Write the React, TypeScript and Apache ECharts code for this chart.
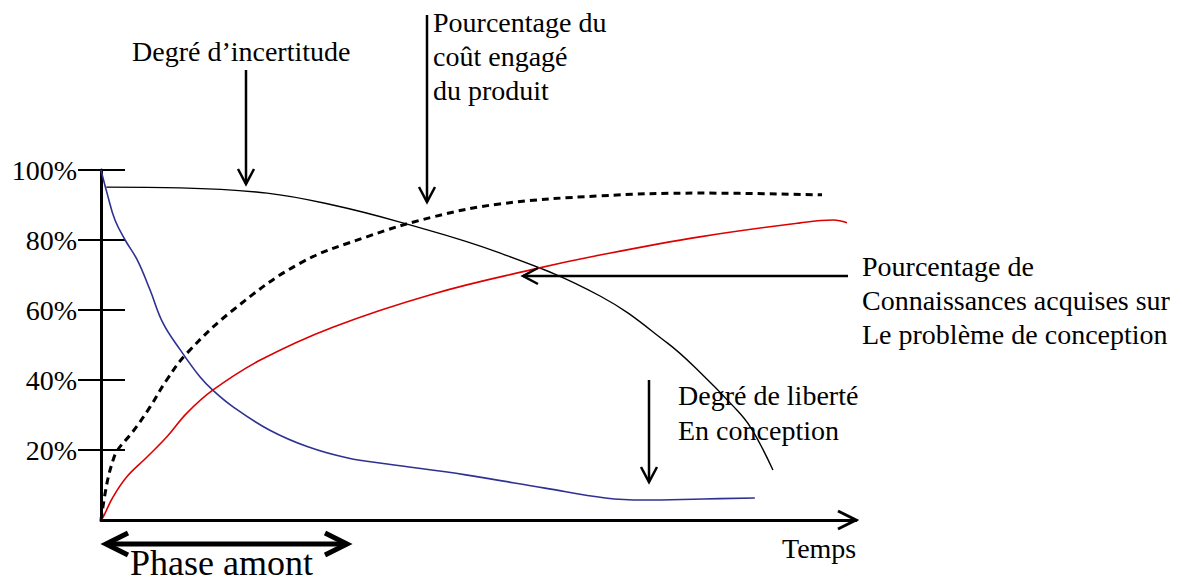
import React, { useEffect, useRef } from "react";
import * as echarts from "echarts";

// ---- data (x: time 0..100, y: percent) ----
const tickValues = [20, 40, 60, 80, 100];

const incertitudeX = [0.7, 10.5, 22, 30.7, 39.6, 52.8, 66.1, 75, 79.3, 83.7, 86, 89];
const incertitudeY = [95.1, 94.9, 93.4, 90, 85.1, 76.3, 64, 50.6, 42.3, 32.6, 26.6, 14.3];

const liberteX = [0, 0.8, 1.85, 3.2, 4.8, 6.5, 8.2, 10.5, 13.1, 14.8, 17.5, 22.3, 27.4, 32.7, 37.9, 48.3, 58.8, 66.8, 71.9, 79.7, 86.6];
const liberteY = [100, 93.4, 85.7, 80, 74.3, 65.7, 56.3, 48.6, 40.9, 37.1, 32.3, 25.7, 20.9, 17.7, 16, 12.9, 9.1, 6.3, 5.7, 6, 6.3];

const connaissX = [0, 0.3, 1.6, 3.4, 6.1, 8.7, 11.4, 14.8, 21.1, 30.7, 44, 57.2, 66.1, 79.3, 92.6, 97, 98.8];
const connaissY = [0, 0.9, 6.6, 12.3, 18, 23.7, 30.6, 37.1, 45.7, 55.1, 64.6, 71.6, 75.7, 80.9, 84.9, 85.7, 84.9];

const coutX = [0, 0.8, 1.6, 2.2, 4.2, 6.5, 8.7, 11.4, 17.5, 26.4, 35.2, 44, 52.8, 66.1, 79.3, 95.5];
const coutY = [0, 10.6, 17.1, 20, 25.2, 32.3, 40, 47.7, 60, 73.4, 80.9, 86.6, 90.3, 92.6, 93.4, 92.9];

const pairs = (xs: number[], ys: number[]) => xs.map((x, i) => [x, ys[i]]);

// ---- layout ----
const W = 1182;
const H = 582;
const LEFT = 101;
const TOP = 170;
const RIGHT = 856;
const BOTTOM = 520;
const FONT = "Liberation Serif";
const FS = 28;

function text(x: number, y: number, t: string, size = FS) {
  return {
    type: "text",
    x,
    y,
    style: { text: t, font: `${size}px '${FONT}'`, fill: "#000", align: "left", verticalAlign: "middle" },
    z: 10,
  };
}

function line(x1: number, y1: number, x2: number, y2: number, w = 2.5) {
  return { type: "line", shape: { x1, y1, x2, y2 }, style: { stroke: "#000", lineWidth: w }, z: 10 };
}

function head(points: number[][], w = 2.5) {
  return { type: "polyline", shape: { points }, style: { stroke: "#000", lineWidth: w, fill: null }, z: 10 };
}

function downArrow(x: number, y1: number, y2: number) {
  return [line(x, y1, x, y2), head([[x - 8, y2 - 15], [x, y2], [x + 8, y2 - 15]])];
}

export default function App() {
  const ref = useRef<HTMLDivElement>(null);
  useEffect(() => {
    if (!ref.current) return;
    const chart = echarts.init(ref.current, null, { renderer: "svg" });
    const graphic: any[] = [
      text(132, 51, "Degré d’incertitude"),
      ...downArrow(246, 70, 184),
      text(433, 22, "Pourcentage du"),
      text(433, 56, "coût engagé"),
      text(433, 90, "du produit"),
      ...downArrow(427, 15, 202),
      line(848, 276, 523, 276),
      head([[538, 268], [523, 276], [538, 284]]),
      text(862, 266, "Pourcentage de"),
      text(862, 300, "Connaissances acquises sur"),
      text(862, 334, "Le problème de conception"),
      ...downArrow(649, 380, 482),
      text(678, 395, "Degré de liberté"),
      text(678, 430, "En conception"),
      head([[RIGHT - 18, BOTTOM - 9], [RIGHT, BOTTOM], [RIGHT - 18, BOTTOM + 9]], 3),
      text(782, 548, "Temps"),
      line(106, 544, 347, 544, 5),
      head([[128, 533], [106, 544], [128, 555]], 5),
      head([[325, 533], [347, 544], [325, 555]], 5),
      text(130, 563, "Phase amont", 36),
    ];
    const lineSeries = (xs: number[], ys: number[], lineStyle: any) => ({
      type: "line",
      data: pairs(xs, ys),
      smooth: 0.4,
      showSymbol: false,
      lineStyle,
    });
    chart.setOption({
      animation: false,
      backgroundColor: "#fff",
      grid: { left: LEFT, top: TOP, width: RIGHT - LEFT, height: BOTTOM - TOP },
      xAxis: {
        type: "value",
        min: 0,
        max: 100,
        axisLine: { show: true, lineStyle: { color: "#000", width: 3 } },
        axisTick: { show: false },
        axisLabel: { show: false },
        splitLine: { show: false },
      },
      yAxis: [
        {
          type: "value",
          min: 0,
          max: 100,
          position: "left",
          axisLine: { show: true, lineStyle: { color: "#000", width: 3 } },
          axisTick: { show: true, inside: false, length: 23, customValues: tickValues, lineStyle: { color: "#000", width: 2 } },
          axisLabel: {
            show: true,
            customValues: tickValues,
            formatter: "{value}%",
            margin: 24,
            color: "#000",
            fontFamily: FONT,
            fontSize: FS,
          },
          splitLine: { show: false },
        },
        {
          type: "value",
          min: 0,
          max: 100,
          position: "left",
          axisLine: { show: false },
          axisTick: { show: true, inside: true, length: 24, customValues: tickValues, lineStyle: { color: "#000", width: 2 } },
          axisLabel: { show: false },
          splitLine: { show: false },
        },
      ],
      series: [
        lineSeries(incertitudeX, incertitudeY, { color: "#000", width: 1.4 }),
        lineSeries(liberteX, liberteY, { color: "#2e3192", width: 1.6 }),
        lineSeries(connaissX, connaissY, { color: "#dd0000", width: 1.6 }),
        lineSeries(coutX, coutY, { color: "#000", width: 3, type: [7, 5] }),
      ],
      graphic,
    });
    return () => chart.dispose();
  }, []);
  return <div ref={ref} style={{ position: "fixed", left: 0, top: 0, width: W, height: H, background: "#fff" }} />;
}
